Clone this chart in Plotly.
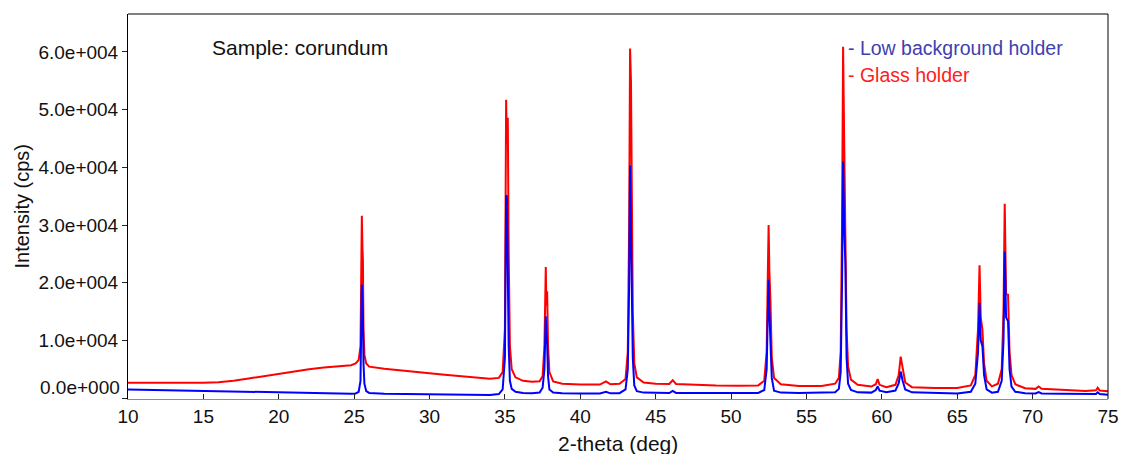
import plotly.graph_objects as go

# 2-theta positions (deg) and intensities (cps)
two_theta = [
    10.0, 11.0, 12.5, 14.0, 15.0, 16.0, 17.0, 18.0, 19.0, 20.0, 21.0, 22.0, 23.0, 24.0, 24.8,
    25.1, 25.3, 25.42, 25.47, 25.51, 25.55, 25.58, 25.62, 25.68, 25.8, 26.0,
    27.0, 28.0, 29.0, 30.0, 31.0, 32.0, 33.0, 34.0, 34.6, 34.85,
    35.0, 35.04, 35.08, 35.13, 35.19, 35.25, 35.33, 35.45, 35.7, 36.2, 36.8,
    37.3, 37.5, 37.62, 37.68, 37.71, 37.75, 37.8, 37.86, 37.95, 38.2, 38.8,
    40.0, 41.3, 41.7, 42.0, 42.6,
    43.0, 43.15, 43.24, 43.3, 43.36, 43.42, 43.48, 43.58, 43.75, 44.2,
    45.0, 45.9, 46.13, 46.35, 47.5, 49.0, 50.5, 51.8,
    52.2, 52.36, 52.44, 52.49, 52.54, 52.61, 52.7, 52.85, 53.3, 54.5, 56.0,
    56.9, 57.15, 57.27, 57.36, 57.43, 57.5, 57.58, 57.66, 57.76, 57.95, 58.4,
    59.3, 59.6, 59.72, 59.85, 60.3,
    60.9, 61.12, 61.25, 61.38, 61.55, 62.0, 63.5, 65.0,
    65.9, 66.2, 66.38, 66.48, 66.56, 66.67, 66.78, 66.95, 67.3,
    67.7, 67.95, 68.07, 68.15, 68.24, 68.37, 68.47, 68.6, 68.85,
    69.5, 70.2, 70.4, 70.6, 72.0, 73.5, 74.2, 74.32, 74.45, 75.0,
]
glass_holder = [
    2650, 2650, 2600, 2550, 2650, 2750, 3000, 3400, 3800, 4250, 4650, 5000, 5300, 5550, 5700,
    6000, 6600, 9000, 20000, 31600, 26000, 24000, 12000, 7500, 6000, 5450,
    5100, 4800, 4550, 4300, 4050, 3850, 3600, 3350, 3500, 4500,
    12000, 42500, 51700, 44000, 48600, 25000, 9000, 5000, 3600, 3000, 2850,
    2900, 3800, 9000, 18000, 22700, 16000, 18500, 9000, 4500, 2900, 2500,
    2350, 2350, 2900, 2400, 2500,
    3300, 8000, 30000, 60600, 55000, 35000, 15000, 6000, 3600, 2700,
    2500, 2450, 3100, 2450, 2300, 2200, 2150, 2200,
    3000, 8000, 22000, 30000, 22000, 17000, 7000, 3500, 2400, 2100, 2100,
    2500, 3500, 8000, 30000, 60900, 45000, 30000, 12000, 5500, 3200, 2300,
    2000, 2400, 3300, 2300, 1900,
    2300, 4000, 7200, 5000, 2700, 1900, 1750, 1750,
    2200, 4000, 12000, 23000, 14000, 11900, 6000, 3000, 2030,
    2500, 5000, 15000, 33700, 18000, 17900, 8000, 4000, 2400,
    1700, 1600, 2000, 1600, 1400, 1250, 1350, 1800, 1300, 1200,
]
low_background_holder = [
    1500, 1450, 1300, 1200, 1150, 1100, 1050, 1000, 950, 900, 850, 800, 780, 760, 760,
    800, 1100, 3000, 12000, 19700, 17000, 14500, 6000, 2500, 1200, 900,
    750, 700, 680, 620, 560, 520, 500, 520, 700, 1500,
    7000, 25700, 35100, 35000, 20000, 9000, 3000, 1600, 1100, 900, 850,
    950, 1800, 5000, 11000, 14200, 11500, 9500, 3800, 1500, 950, 850,
    800, 800, 1100, 820, 850,
    1500, 5000, 20000, 40300, 30000, 22000, 7000, 2200, 1200, 950,
    880, 880, 1250, 900, 880, 870, 870, 880,
    1400, 5000, 15000, 20500, 15000, 11000, 3500, 1300, 950, 880, 880,
    1000, 1600, 4500, 20000, 41000, 30000, 23400, 7000, 2500, 1400, 1000,
    950, 1400, 2030, 1300, 1000,
    1300, 2600, 4600, 3000, 1500, 1000, 900, 800,
    1100, 2500, 8000, 16500, 10000, 9000, 4000, 1500, 950,
    1100, 3000, 10000, 25400, 14000, 13300, 5000, 2000, 1100,
    850, 800, 1050, 800, 750, 650, 700, 1000, 700, 600,
]
y_tick_values = [0, 10000, 20000, 30000, 40000, 50000, 60000]
y_tick_labels = ["", "1.0e+004", "2.0e+004", "3.0e+004", "4.0e+004", "5.0e+004", "6.0e+004"]
x_tick_values = [10, 15, 20, 25, 30, 35, 40, 45, 50, 55, 60, 65, 70, 75]

FONT = "Liberation Sans, Arial, sans-serif"

fig = go.Figure()
fig.add_trace(go.Scatter(x=two_theta, y=glass_holder, mode="lines",
                         line=dict(color="#ff0000", width=2), name="Glass holder"))
fig.add_trace(go.Scatter(x=two_theta, y=low_background_holder, mode="lines",
                         line=dict(color="#0000ff", width=2), name="Low background holder"))

fig.update_layout(
    width=1122, height=454,
    margin=dict(l=128, r=14, t=14, b=55, autoexpand=False),
    paper_bgcolor="white", plot_bgcolor="white",
    showlegend=False,
    font=dict(family=FONT, color="#111111"),
    xaxis=dict(range=[10, 75], tickvals=x_tick_values, ticks="inside", ticklen=5,
               tickcolor="#222222", showline=True, linecolor="#8c8c8c", linewidth=1,
               automargin=False,
               showgrid=False, zeroline=False, tickfont=dict(size=19, family=FONT, color="#111111")),
    yaxis=dict(range=[-156, 66570], tickvals=y_tick_values, ticktext=y_tick_labels,
               ticks="outside", ticklen=5, tickcolor="#222222", showline=True,
               linecolor="black", linewidth=1, showgrid=False, zeroline=False,
               automargin=False,
               tickfont=dict(size=19, family=FONT, color="#111111")),
    shapes=[
        dict(type="line", xref="paper", yref="paper", x0=0, x1=1, y0=1, y1=1,
             line=dict(color="black", width=1)),
        dict(type="line", xref="paper", yref="paper", x0=1, x1=1, y0=0, y1=1,
             line=dict(color="black", width=1)),
    ],
    annotations=[
        dict(text="0.0e+000", xref="paper", x=0, xanchor="right", xshift=-6,
             yref="y", y=0, yanchor="middle", yshift=11, showarrow=False,
             font=dict(size=19, family=FONT, color="#111111")),
        dict(text="Intensity (cps)", xref="paper", x=0, xshift=-107, xanchor="center",
             yref="paper", y=0.5, yanchor="middle", textangle=-90, showarrow=False,
             font=dict(size=20, family=FONT, color="#111111")),
        dict(text="2-theta (deg)", xref="paper", x=0.5, xanchor="center",
             yref="paper", y=0, yanchor="middle", yshift=-44, showarrow=False,
             font=dict(size=21, family=FONT, color="#111111")),
        dict(text="Sample: corundum", xref="paper", x=0.0837, xanchor="left",
             yref="paper", y=0.9117, yanchor="middle", showarrow=False,
             font=dict(size=21, family=FONT, color="#111111")),
        dict(text="- Low background holder", xref="paper", x=0.7327, xanchor="left",
             yref="paper", y=0.9117, yanchor="middle", showarrow=False,
             font=dict(size=19.5, family=FONT, color="#4040b0")),
        dict(text="- Glass holder", xref="paper", x=0.7327, xanchor="left",
             yref="paper", y=0.8416, yanchor="middle", showarrow=False,
             font=dict(size=19.5, family=FONT, color="#ff2020")),
    ],
)

fig.write_html("out.html", config={"displayModeBar": False})
